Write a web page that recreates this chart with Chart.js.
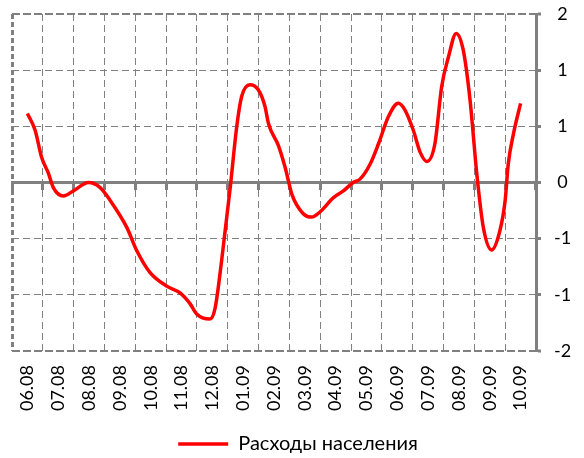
<!DOCTYPE html>
<html>
<head>
<meta charset="utf-8">
<script src="https://cdn.jsdelivr.net/npm/chart.js@4/dist/chart.umd.min.js"></script>
<style>
  body { margin: 0; background: #fff; }
</style>
</head>
<body>
<canvas id="c" width="584" height="458"></canvas>
<script>
// Подписи месяцев
const months = ['06.08', '07.08', '08.08', '09.08', '10.08', '11.08', '12.08', '01.09', '02.09',
    '03.09', '04.09', '05.09', '06.09', '07.09', '08.09', '09.09', '10.09'];

// Положение точек (в месяцах от 06.08) и значения ряда
const pointPos = [0.00, 0.25, 0.46, 0.68, 0.84, 1.17, 1.49, 1.98, 2.36, 2.68, 3.22, 3.55, 3.98,
    4.52, 4.95, 5.28, 5.49, 5.92, 6.09, 6.30, 6.58, 6.79, 6.95, 7.22, 7.49, 7.71, 7.82, 8.14,
    8.36, 8.58, 8.95, 9.22, 9.49, 9.93, 10.25, 10.57, 10.79, 11.12, 11.39, 11.71, 12.03, 12.25,
    12.52, 12.74, 12.96, 13.22, 13.44, 13.66, 13.91, 14.14, 14.36, 14.58, 14.79, 15.06, 15.33,
    15.50, 15.60, 15.77, 16.00];
const spending = [0.82, 0.62, 0.30, 0.11, -0.06, -0.16, -0.10, 0.00, -0.06, -0.21, -0.53, -0.81, -1.07,
    -1.23, -1.31, -1.44, -1.56, -1.62, -1.49, -0.93, -0.06, 0.66, 1.02, 1.16, 1.10, 0.90, 0.70, 0.44,
    0.18, -0.14, -0.37, -0.41, -0.35, -0.18, -0.10, 0.00, 0.04, 0.22, 0.46, 0.78, 0.94, 0.86,
    0.62, 0.36, 0.25, 0.46, 1.14, 1.49, 1.77, 1.57, 0.98, 0.10, -0.53, -0.80, -0.57,
    -0.21, 0.22, 0.58, 0.94];

// Деления оси Y и их подписи
const yTicks = [-2, -4 / 3, -2 / 3, 0, 2 / 3, 4 / 3, 2];
const yTickLabels = ['-2', '-1', '-1', '0', '1', '1', '2'];

const GRAY = '#808080';
const FONT = { family: 'Lato', size: 18 };

new Chart(document.getElementById('c'), {
    type: 'line',
    data: {
        labels: months,
        datasets: [{
            label: 'Расходы населения',
            data: pointPos.map((p, i) => ({ x: p, y: spending[i] })),
            xAxisID: 'xData',
            yAxisID: 'y',
            borderColor: '#ff0000',
            backgroundColor: '#ff0000',
            borderWidth: 3.5,
            pointRadius: 0,
            cubicInterpolationMode: 'monotone',
            fill: false
        }]
    },
    options: {
        responsive: false,
        devicePixelRatio: 1,
        animation: false,
        layout: { padding: { top: 14, left: 12, right: 0, bottom: -6 } },
        plugins: {
            tooltip: { enabled: false },
            legend: {
                position: 'bottom',
                labels: {
                    color: '#000',
                    font: { family: 'Lato', size: 20 },
                    padding: 4,
                    usePointStyle: true,
                    pointStyle: 'line',
                    pointStyleWidth: 50
                }
            }
        },
        scales: {
            x: {
                type: 'category',
                position: 'bottom',
                offset: true,
                grid: {
                    offset: true,
                    color: GRAY,
                    lineWidth: ctx => ctx.index === 0 ? 3 : 1,
                    drawTicks: false
                },
                border: {
                    display: false,
                    dash: ctx => ctx.index === 0 ? [5, 3] : [7, 4]
                },
                ticks: {
                    color: '#000',
                    font: FONT,
                    autoSkip: false,
                    maxRotation: 90,
                    minRotation: 90,
                    padding: 14
                },
                afterFit: scale => { scale.height = 79; }
            },
            xZero: {
                type: 'category',
                axis: 'x',
                position: { y: 0 },
                offset: true,
                grid: {
                    offset: true,
                    drawOnChartArea: false,
                    drawTicks: true,
                    tickLength: 6,
                    tickWidth: 3,
                    tickColor: GRAY
                },
                border: { display: true, color: GRAY, width: 3 },
                ticks: { display: false }
            },
            xData: {
                type: 'linear',
                display: false,
                min: -0.5,
                max: 16.5
            },
            y: {
                type: 'linear',
                position: 'right',
                min: -2,
                max: 2,
                afterBuildTicks: scale => { scale.ticks = yTicks.map(v => ({ value: v })); },
                afterFit: scale => {
                    scale.width = 48;
                    scale.paddingTop = 0;
                    scale.paddingBottom = 0;
                },
                grid: {
                    color: GRAY,
                    lineWidth: ctx => ctx.tick && Math.abs(ctx.tick.value) === 2 ? 2 : 1,
                    drawTicks: true,
                    tickLength: 5,
                    tickWidth: 3,
                    tickColor: GRAY
                },
                border: {
                    display: true,
                    color: GRAY,
                    width: 3,
                    dash: ctx => ctx.tick && Math.abs(ctx.tick.value) === 2 ? [8, 3] : [7, 4]
                },
                ticks: {
                    color: '#000',
                    font: FONT,
                    crossAlign: 'center',
                    padding: 13,
                    callback: (v, i) => yTickLabels[i]
                }
            }
        }
    }
});
</script>
</body>
</html>
